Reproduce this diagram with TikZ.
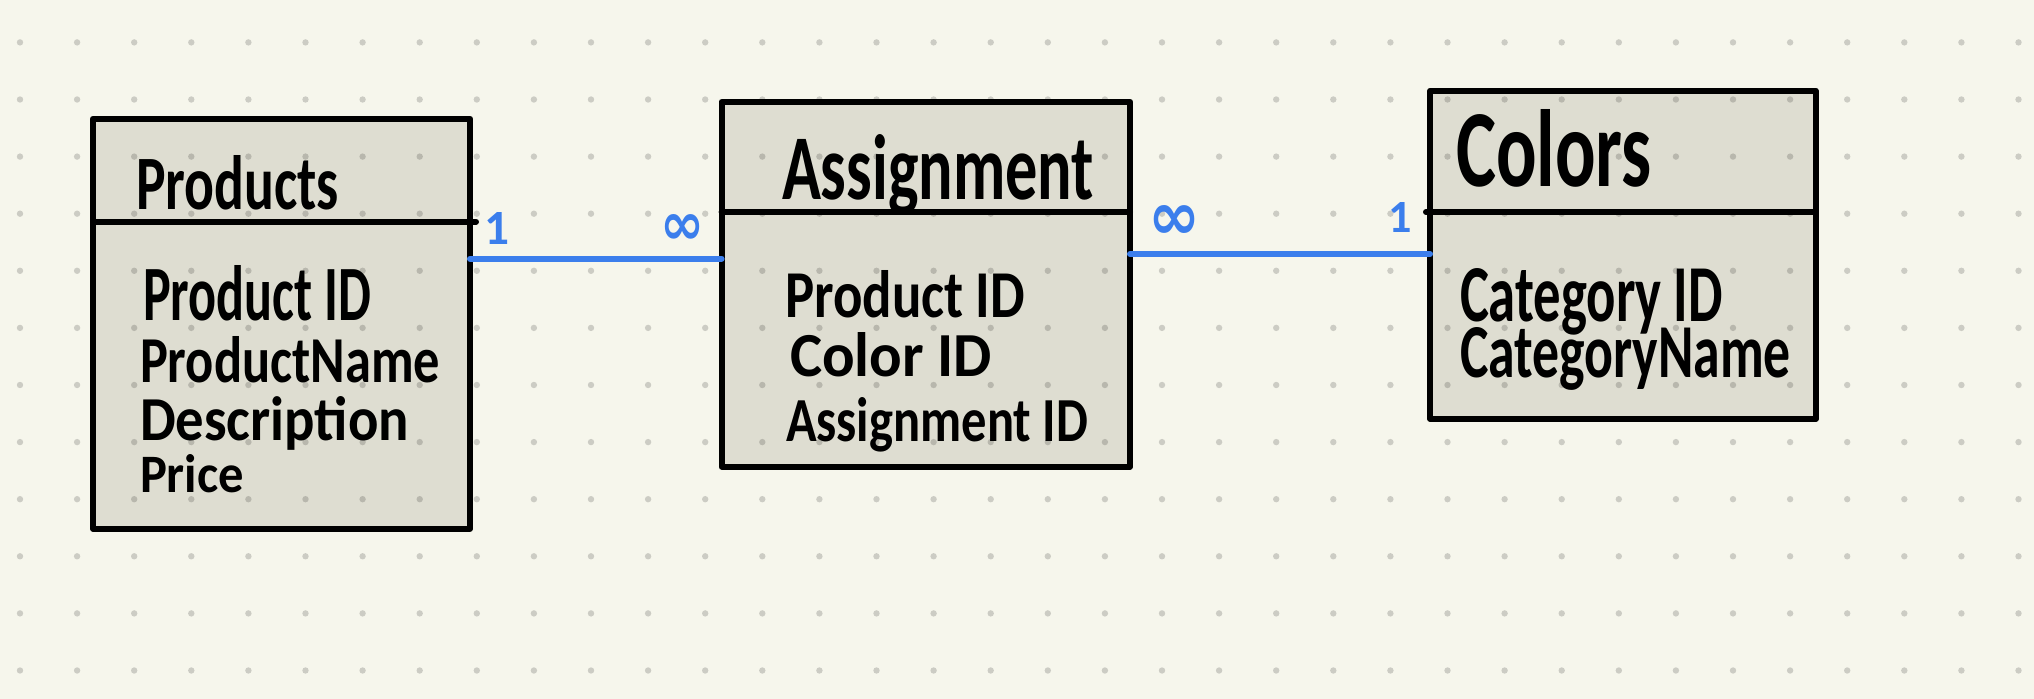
\documentclass[tikz,border=0pt]{standalone}
\usepackage{amsmath}
\usepackage{fontspec}
\setmainfont{Carlito}
\newfontfamily\symfont{DejaVu Sans}
\usepackage{graphicx}
\definecolor{paper}{HTML}{F6F6EC}
\definecolor{boxfill}{HTML}{DEDDD1}
\definecolor{linkblue}{HTML}{3B7EEC}
\newlength\pxu
\setlength\pxu{0.5pt}
\newcommand{\hw}[3]{\resizebox{#1\pxu}{#2\pxu}{\bfseries #3}}
\tikzset{
  tablebox/.style={draw=black, fill=boxfill, line width=3pt, line join=round,
    rectangle, inner sep=0pt, outer sep=0pt, anchor=north west},
  rulebar/.style={draw=black, line width=3pt, line cap=round},
  link/.style={draw=linkblue, line width=3pt, line cap=round},
  txt/.style={inner sep=0pt, outer sep=0pt, anchor=base west, text=black},
  lbl/.style={inner sep=0pt, outer sep=0pt, anchor=base, text=linkblue},
  gridspot/.style={fill=black, fill opacity=0.17}
}
\begin{document}
\begin{tikzpicture}[x=0.5pt, y=-0.5pt]
\useasboundingbox (0,0) rectangle (2034,699);
\fill[paper] (0,0) rectangle (2034,699);

% tables
\node[tablebox, minimum width=188.5pt, minimum height=205pt] (prod) at (93,118.6) {};
\node[tablebox, minimum width=204.2pt, minimum height=182.5pt] (assign) at (721.6,101.7) {};
\node[tablebox, minimum width=192.9pt, minimum height=164pt] (colors) at (1430,90.8) {};

% dot grid
\foreach \i in {0,...,35} {
  \foreach \j in {0,...,11} {
    \fill[gridspot] ({20+57.1*\i},{42.4+57.1*\j}) circle[radius=1.6pt];
  }
}

% dividers
\draw[rulebar] (prod.west |- 0,221.6) -- ([xshift=3pt]prod.east |- 0,221.6);
\draw[rulebar] (assign.west |- 0,212) -- (assign.east |- 0,212);
\draw[rulebar] ([xshift=-2pt]colors.west |- 0,212) -- (colors.east |- 0,212);

% connectors
\draw[link] (prod.east |- 0,258.6) -- (assign.west |- 0,258.6);
\draw[link] (assign.east |- 0,254) -- (colors.west |- 0,254);

% cardinality labels
\node[lbl] (m1) at (497,245) {\resizebox{!}{32\pxu}{\bfseries 1}};
\node[lbl] (m2) at (682,245) {\resizebox{44\pxu}{30\pxu}{\symfont\bfseries ∞}};
\node[lbl] (m3) at (1174,240) {\resizebox{52\pxu}{34\pxu}{\symfont\bfseries ∞}};
\node[lbl] (m4) at (1400,233) {\resizebox{!}{30\pxu}{\bfseries 1}};

% Products
\node[txt] (ptitle) at (136,210) {\hw{203}{54}{Products}};
\node[txt] (p1) at (143,321) {\hw{228}{55}{Product ID}};
\node[txt] (p2) at (140,383) {\hw{300}{46}{ProductName}};
\node[txt] (p3) at (140,441) {\hw{269}{44}{Description}};
\node[txt] (p4) at (140,493) {\hw{104}{38}{Price}};

% Assignment
\node[txt] (atitle) at (782,200) {\hw{312}{65}{Assignment}};
\node[txt] (a1) at (785,318) {\hw{240}{47}{Product ID}};
\node[txt] (a2) at (790,377) {\hw{202}{44}{Color ID}};
\node[txt] (a3) at (786,442) {\hw{302}{44}{Assignment ID}};

% Colors
\node[txt] (ctitle) at (1456,187) {\hw{196}{77}{Colors}};
\node[txt] (c1) at (1460,322) {\hw{263}{53}{Category ID}};
\node[txt] (c2) at (1460,378) {\hw{331}{50}{CategoryName}};
\end{tikzpicture}
\end{document}
